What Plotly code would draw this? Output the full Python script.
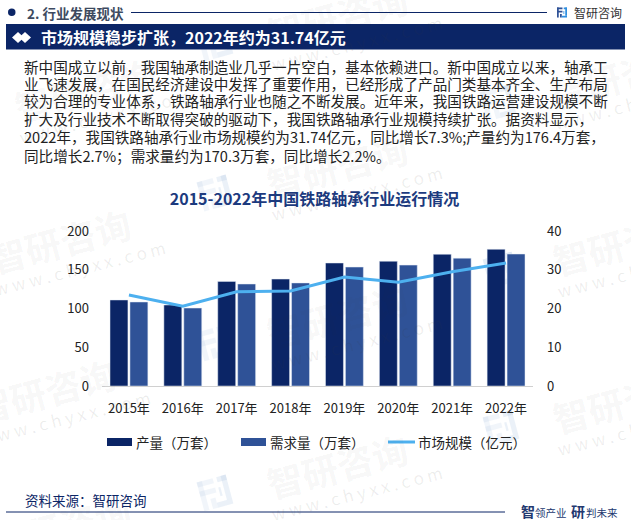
import math
import plotly.graph_objects as go

# chart data
years = ['2015年', '2016年', '2017年', '2018年', '2019年', '2020年', '2021年', '2022年']
output_vals = [111, 104.5, 135, 138, 158.7, 161, 170, 176.4]
demand_vals = [108.4, 100.6, 131.6, 133, 153.5, 156, 165, 170.3]
market_vals = [23.5, 20.6, 24.3, 24.5, 28.1, 26.8, 29.5, 31.74]

left_ticks = [0, 50, 100, 150, 200]
right_ticks = [0, 10, 20, 30, 40]

body_lines = [
    '新中国成立以前，我国轴承制造业几乎一片空白，基本依赖进口。新中国成立以来，轴承工',
    '业飞速发展，在国民经济建设中发挥了重要作用，已经形成了产品门类基本齐全、生产布局',
    '较为合理的专业体系，铁路轴承行业也随之不断发展。近年来，我国铁路运营建设规模不断',
    '扩大及行业技术不断取得突破的驱动下，我国铁路轴承行业规模持续扩张。据资料显示，',
    '2022年，我国铁路轴承行业市场规模约为31.74亿元，同比增长7.3%;产量约为176.4万套，',
    '同比增长2.7%；需求量约为170.3万套，同比增长2.2%。',
]
body_y = [66, 84, 101, 119, 137, 155]

# watermark centres, in page pixels
mark_pos = [(337, 165), (337, 315), (337, 465), (85, 89), (60, 240), (45, 390),
            (60, 525), (623, 242), (623, 400), (620, 75), (337, 15)]

FONT = 'Noto Sans CJK SC'
NAVY = '#0b2566'
BLUE = '#2f5297'
SKY = '#4db0ef'
W, H = 631, 520


def X(px):
    return px / W


def Y(py):
    return 1 - py / H


def label(px, py, text, size, color, anchor='left', bold=False, angle=0):
    if bold:
        text = '<b>' + text + '</b>'
    return dict(x=X(px), y=Y(py), xref='paper', yref='paper', text=text, showarrow=False,
                xanchor=anchor, yanchor='middle', textangle=angle,
                font=dict(family=FONT, size=size, color=color))


def rect(x0, y0, x1, y1, color):
    return dict(type='rect', xref='paper', yref='paper', x0=X(x0), x1=X(x1), y0=Y(y0), y1=Y(y1),
                fillcolor=color, line_width=0, layer='below')


def logo(cx, cy, s, c1, c2, angle=0):
    # the little bracket logo, drawn as bars around a centre
    parts = [((-1, -1), (0.1, -0.65), c1), ((-1, -0.35), (0.1, 0), c1), ((-1, -1), (-0.65, 1), c1),
             ((-0.4, 0.3), (-0.05, 1), c1), ((0.35, -1), (1, -0.65), c2), ((0.65, -1), (1, 0.65), c2),
             ((-0.05, 0.65), (1, 1), c2), ((0.3, -0.3), (0.45, 0.3), c2)]
    out = []
    a = math.radians(angle)
    for (x0, y0), (x1, y1), c in parts:
        pts = [(x0, y0), (x1, y0), (x1, y1), (x0, y1)]
        path = ''
        for i, (px, py) in enumerate(pts):
            rx = cx + s * (px * math.cos(a) - py * math.sin(a))
            ry = cy + s * (px * math.sin(a) + py * math.cos(a))
            path += ('M' if i == 0 else 'L') + f'{X(rx):.4f},{Y(ry):.4f} '
        out.append(dict(type='path', xref='paper', yref='paper', path=path + 'Z',
                        fillcolor=c, line_width=0, layer='below'))
    return out


fig = go.Figure()
fig.add_trace(go.Bar(x=years, y=output_vals, name='产量（万套）', marker_color=NAVY, showlegend=False))
fig.add_trace(go.Bar(x=years, y=demand_vals, name='需求量（万套）', marker_color=BLUE, showlegend=False))
fig.add_trace(go.Scatter(x=years, y=market_vals, name='市场规模（亿元）', mode='lines', yaxis='y2',
                         line=dict(color=SKY, width=3), showlegend=False))

shapes = []
annos = []

# watermarks
for mx, my in mark_pos:
    annos.append(label(mx, my, '智研咨询', 36, 'rgba(60,60,60,0.05)', 'center', True, -15))
    annos.append(label(mx + 20, my + 27, 'w w w . c h y x x . c o m', 17, 'rgba(60,60,60,0.09)', 'center', False, -14))
    shapes += logo(mx - 122, my + 28, 15, 'rgba(170,195,225,0.16)', 'rgba(170,195,225,0.24)', -15)

# page header
shapes.append(dict(type='circle', xref='paper', yref='paper', x0=X(8), x1=X(15.5), y0=Y(8.5), y1=Y(16),
                   fillcolor=NAVY, line_width=0))
shapes.append(dict(type='line', xref='paper', yref='paper', x0=X(131), x1=X(547), y0=Y(12.5), y1=Y(12.5),
                   line=dict(color=NAVY, width=1)))
annos.append(label(25, 12.5, '2. 行业发展现状', 13.5, '#3d4a60', bold=True))
shapes += logo(562, 12.5, 5, '#2f5297', '#2f8fe0')
annos.append(label(572, 12.5, '智研咨询', 12, '#333333'))

# banner
shapes.append(rect(6, 24, 625, 49.5, NAVY))
for dx in (18, 25):
    shapes.append(dict(type='path', xref='paper', yref='paper', fillcolor='white', line_width=0,
                       path=f'M{X(dx-6)},{Y(37.5)} L{X(dx)},{Y(32)} L{X(dx+6)},{Y(37.5)} L{X(dx)},{Y(43)} Z'))
annos.append(label(39, 37.5, '市场规模稳步扩张，2022年约为31.74亿元', 16, 'white', bold=True))

# body text
for line, ly in zip(body_lines, body_y):
    annos.append(label(22, ly, line, 14.6, '#222222'))

# legend, the swatches are wider than plotly's own
shapes.append(rect(107, 438, 132, 446, NAVY))
annos.append(label(134, 442, '产量（万套）', 13.5, '#222222'))
shapes.append(rect(241, 438, 266, 446, BLUE))
annos.append(label(268, 442, '需求量（万套）', 13.5, '#222222'))
shapes.append(dict(type='line', xref='paper', yref='paper', x0=X(388), x1=X(415), y0=Y(442), y1=Y(442),
                   line=dict(color=SKY, width=3)))
annos.append(label(416, 442, '市场规模（亿元）', 13.5, '#222222'))

# footer
annos.append(label(23, 500, '资料来源：智研咨询', 13.5, NAVY))
shapes.append(dict(type='line', xref='paper', yref='paper', x0=X(6), x1=X(505), y0=Y(512), y1=Y(512),
                   line=dict(color=NAVY, width=1)))
annos.append(label(519, 511, '智', 14, '#22386f', bold=True))
annos.append(label(533, 512, '领产业', 10.5, '#22386f'))
annos.append(label(569, 511, '研', 14, '#22386f', bold=True))
annos.append(label(584, 512, '判未来', 10.5, '#22386f'))

fig.update_layout(
    width=W, height=H,
    margin=dict(l=0, r=0, t=0, b=0),
    paper_bgcolor='white', plot_bgcolor='rgba(0,0,0,0)',
    font=dict(family=FONT, size=13, color='#222222'),
    title=dict(text='<b>2015-2022年中国铁路轴承行业运行情况</b>', x=314.5 / W, xanchor='center',
               y=Y(199), yanchor='middle', font=dict(family=FONT, size=16, color='#1c3a7e')),
    barmode='group', bargap=0.26, bargroupgap=0.1,
    showlegend=False,
    xaxis=dict(domain=[X(102), X(533)], showline=True, linecolor='#d0d0d0', ticks='', tickfont=dict(size=13),
               ticklabelstandoff=10, showgrid=False, zeroline=False, automargin=False),
    yaxis=dict(domain=[Y(386), Y(231)], range=[0, 200], tickvals=left_ticks, showgrid=False, zeroline=False,
               ticklabelstandoff=12, tickfont=dict(size=13), automargin=False),
    yaxis2=dict(overlaying='y', side='right', anchor='x', range=[0, 40], tickvals=right_ticks, showgrid=False,
                zeroline=False, ticklabelstandoff=13, tickfont=dict(size=13), automargin=False),
    shapes=shapes,
    annotations=annos,
)

fig.write_html('out.html', config=dict(displayModeBar=False), post_script="document.body.style.margin='0';")
